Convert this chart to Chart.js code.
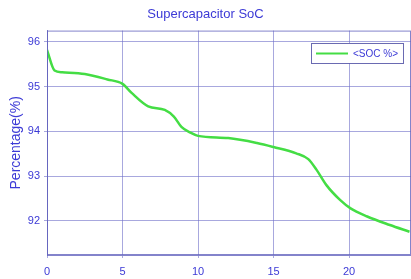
<!DOCTYPE html>
<html>
<head>
<meta charset="utf-8">
<script src="https://cdn.jsdelivr.net/npm/chart.js@4"></script>
<style>
  html, body { margin: 0; padding: 0; background: #fff; }
  #wrap { width: 411px; height: 279px; position: relative; }
</style>
</head>
<body>
<div id="wrap"><canvas id="myChart"></canvas></div>
<script>
// time (x) and state of charge (y)
let hours = [0, 0.5, 1, 2.5, 4, 5, 5.6, 6.7, 7.8, 8.4, 8.9, 9.5, 10, 12, 13.9, 15, 16.5, 17.3, 17.85, 18.5, 19.4, 20.1, 21.2, 22.7, 24];
let soc = [95.82, 95.36, 95.32, 95.28, 95.16, 95.06, 94.86, 94.56, 94.48, 94.33, 94.1, 93.97, 93.9, 93.85, 93.74, 93.65, 93.51, 93.38, 93.14, 92.8, 92.47, 92.28, 92.1, 91.91, 91.76];
let xTicks = [0, 5, 10, 15, 20];
let yTicks = [92, 93, 94, 95, 96];

let blue = "#3c3ad6";
let gridColor = "rgba(110,110,200,0.6)";
Chart.defaults.font.family = "'Liberation Sans', Arial, sans-serif";
Chart.defaults.font.size = 10;

// frame + legend drawn inside the plot box
const boxPlugin = {
  id: "box",
  afterDraw(chart) {
    let ctx = chart.ctx;
    let a = chart.chartArea;
    ctx.save();
    ctx.strokeStyle = "rgba(100,100,190,0.8)";
    ctx.lineWidth = 1;
    ctx.strokeRect(a.left + 0.5, a.top + 0.5, a.right - a.left - 1, a.bottom - a.top - 1);
    // legend
    let lx = 311, ly = 43, lw = 92, lh = 20;
    ctx.fillStyle = "#fff";
    ctx.fillRect(lx, ly, lw, lh);
    ctx.strokeStyle = "rgba(90,90,170,0.9)";
    ctx.strokeRect(lx + 0.5, ly + 0.5, lw, lh);
    ctx.strokeStyle = "#44dd44";
    ctx.lineWidth = 2;
    ctx.beginPath();
    ctx.moveTo(lx + 5, ly + 10.5);
    ctx.lineTo(lx + 37, ly + 10.5);
    ctx.stroke();
    ctx.fillStyle = blue;
    ctx.font = "10px 'Liberation Sans', Arial, sans-serif";
    ctx.textBaseline = "middle";
    ctx.fillText(chart.data.datasets[0].label, lx + 42, ly + 11);
    ctx.restore();
  },
};

let ctx = document.getElementById("myChart").getContext("2d");
let myChart = new Chart(ctx, {
  type: "line",
  data: {
    datasets: [
      {
        label: "<SOC %>",
        data: hours.map((h, i) => ({ x: h, y: soc[i] })),
        borderColor: "#44dd44",
        borderWidth: 2.5,
        pointRadius: 0,
        fill: false,
        cubicInterpolationMode: "monotone",
      },
    ],
  },
  options: {
    responsive: true,
    maintainAspectRatio: false,
    animation: false,
    layout: { padding: 0 },
    plugins: {
      legend: { display: false },
      tooltip: { enabled: false },
      title: {
        display: true,
        text: "Supercapacitor SoC",
        color: blue,
        font: { size: 13, weight: "normal" },
        padding: { top: 7, bottom: 8 },
      },
    },
    scales: {
      x: {
        type: "linear",
        min: 0,
        max: 24.1,
        afterBuildTicks: (s) => { s.ticks = xTicks.map((v) => ({ value: v })); },
        afterFit: (s) => { s.height = 24; },
        ticks: { color: blue, padding: 7, maxRotation: 0, font: { size: 11 } },
        grid: { color: gridColor, tickLength: 3 },
        border: { color: "rgba(100,100,190,0.8)" },
      },
      y: {
        min: 91.24,
        max: 96.25,
        afterBuildTicks: (s) => { s.ticks = yTicks.map((v) => ({ value: v })); },
        afterFit: (s) => { s.width = 47; },
        ticks: { color: blue, padding: 4, font: { size: 11 } },
        grid: { color: gridColor, tickLength: 3 },
        border: { color: "rgba(100,100,190,0.8)" },
        title: {
          display: true,
          text: "Percentage(%)",
          color: blue,
          font: { size: 14 },
          padding: { top: 8, bottom: 0 },
        },
      },
    },
  },
  plugins: [boxPlugin],
});
</script>
</body>
</html>
